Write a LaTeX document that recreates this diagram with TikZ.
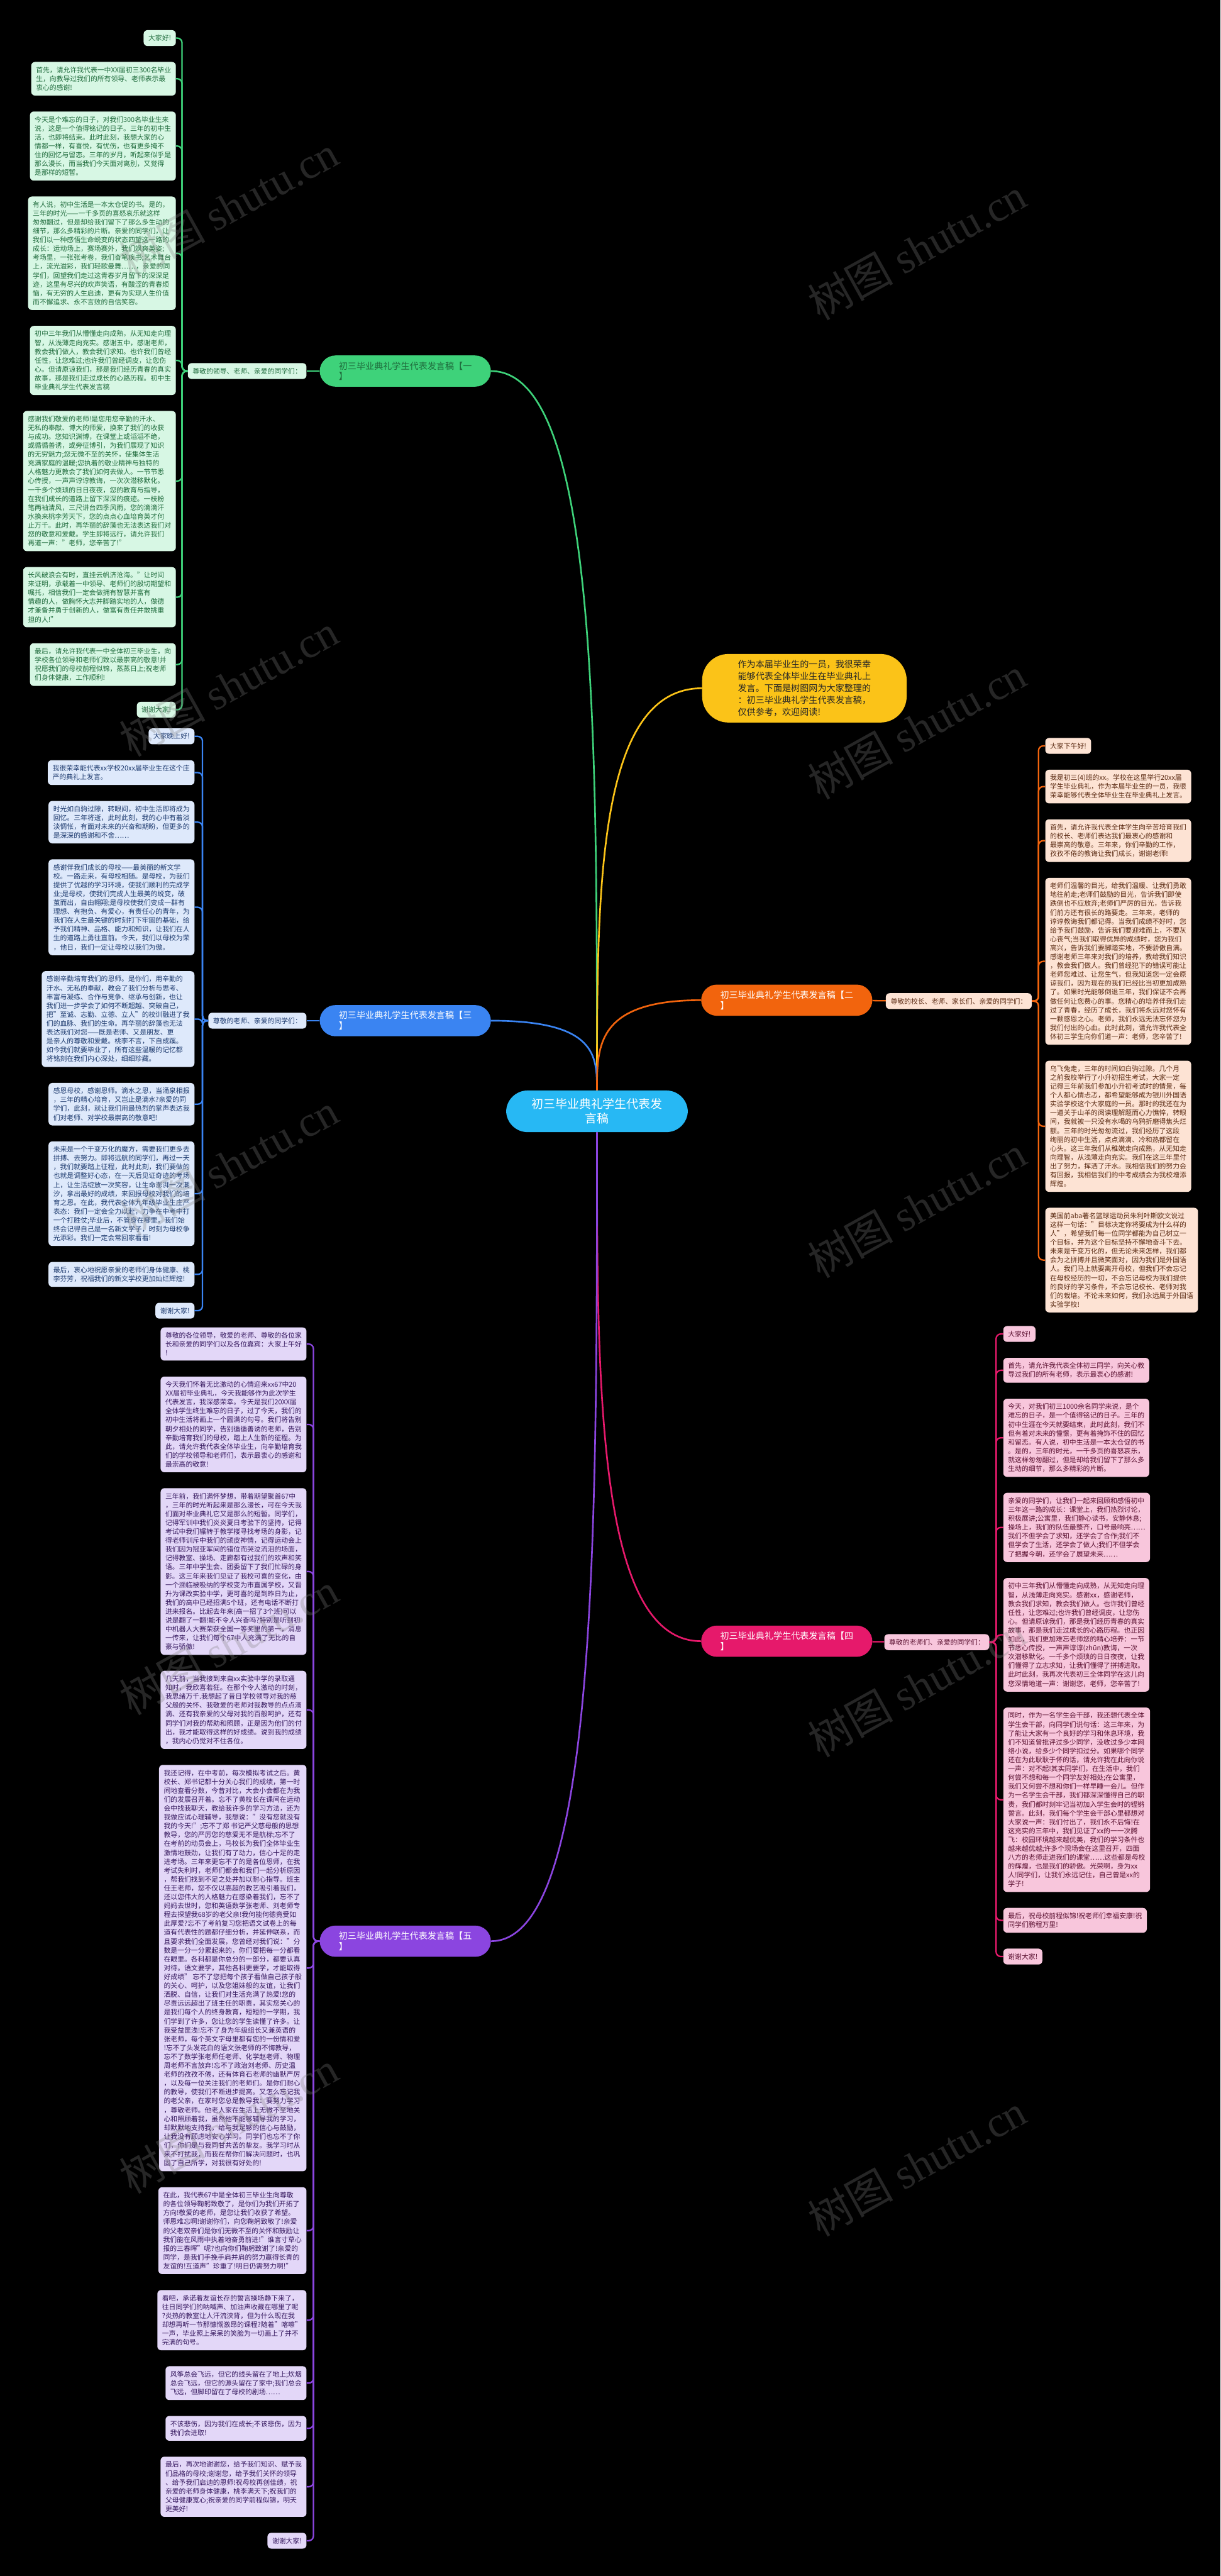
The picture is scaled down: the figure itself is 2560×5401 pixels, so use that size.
\documentclass[tikz,border=0pt]{standalone}
\usepackage{fontspec}
\setmainfont{Noto Sans CJK SC}
\newfontfamily\wmserif{Liberation Serif}
\usetikzlibrary{positioning,backgrounds}

\definecolor{rootfill}{HTML}{27B8F4}
\definecolor{gline}{HTML}{3ED27A}
\definecolor{gleafbg}{HTML}{D7F7E4}
\definecolor{gtext}{HTML}{1F6B3C}
\definecolor{bline}{HTML}{3A84F2}
\definecolor{bleafbg}{HTML}{DEE9FB}
\definecolor{btext}{HTML}{1D3A6E}
\definecolor{oline}{HTML}{F2640D}
\definecolor{oleafbg}{HTML}{FDE3D4}
\definecolor{otext}{HTML}{5A2A12}
\definecolor{kline}{HTML}{E6196B}
\definecolor{kleafbg}{HTML}{F8C6DC}
\definecolor{ktext}{HTML}{5A1030}
\definecolor{pline}{HTML}{8B45E0}
\definecolor{pleafbg}{HTML}{E3D7F8}
\definecolor{ptext}{HTML}{35185E}
\definecolor{yfill}{HTML}{FBC318}

\begin{document}
\begin{tikzpicture}[x=1pt,y=-1pt,node distance=33pt,
  leaf node/.style={rounded corners=8pt,inner xsep=10pt,inner ysep=10pt,align=left,
    font=\fontsize{14.3}{18.6}\selectfont},
  gleaf/.style={leaf node,fill=gleafbg,text=gtext},
  bleaf/.style={leaf node,fill=bleafbg,text=btext},
  oleaf/.style={leaf node,fill=oleafbg,text=otext},
  kleaf/.style={leaf node,fill=kleafbg,text=ktext},
  pleaf/.style={leaf node,fill=pleafbg,text=ptext},
  main node/.style={rounded corners=33pt,inner xsep=40pt,inner ysep=13pt,align=left,
    font=\fontsize{18.6}{22}\selectfont},
  gtrunk/.style={draw=gline,line width=3pt,rounded corners=10pt},
  btrunk/.style={draw=bline,line width=3pt,rounded corners=10pt},
  otrunk/.style={draw=oline,line width=3pt,rounded corners=10pt},
  ktrunk/.style={draw=kline,line width=3pt,rounded corners=10pt},
  ptrunk/.style={draw=pline,line width=3pt,rounded corners=10pt},
  wmark/.style={text=gray,opacity=0.3,rotate=29,font=\fontsize{90}{90}\selectfont}]

  \useasboundingbox (0,0) rectangle (2560,5401);

  % centre and the summary
  \node[rounded corners=45pt,fill=rootfill,text=white,align=center,inner xsep=53pt,inner ysep=17pt,
    font=\fontsize{25}{30}\selectfont] (root) at (1252,2330) {初三毕业典礼学生代表发\\言稿};
  \node[rounded corners=55pt,fill=yfill,text=black!85,align=left,inner xsep=75pt,inner ysep=13pt,
    font=\fontsize{18.6}{25}\selectfont] (intro) at (1687,1443)
    {作为本届毕业生的一员，我很荣幸\\能够代表全体毕业生在毕业典礼上\\发言。下面是树图网为大家整理的\\：初三毕业典礼学生代表发言稿，\\仅供参考，欢迎阅读!};

  % branch one
  \node[main node,fill=gline,text=gtext] (g main) at (850,778) {初三毕业典礼学生代表发言稿【一\\】};
  \node[gleaf,anchor=east] (g lab) at (643,778) {尊敬的领导、老师、亲爱的同学们：};
  \node[gleaf,anchor=north east] (g0) at (369,63) {大家好!};
  \node[gleaf,below=of g0.south east,anchor=north east] (g1) {首先，请允许我代表一中XX届初三300名毕业\\生，向教导过我们的所有领导、老师表示最\\衷心的感谢!};
  \node[gleaf,below=of g1.south east,anchor=north east] (g2) {今天是个难忘的日子，对我们300名毕业生来\\说，这是一个值得铭记的日子。三年的初中生\\活，也即将结束。此时此刻，我想大家的心\\情都一样，有喜悦，有忧伤，也有更多掩不\\住的回忆与留恋。三年的岁月，听起来似乎是\\那么漫长，而当我们今天面对离别，又觉得\\是那样的短暂。};
  \node[gleaf,below=of g2.south east,anchor=north east] (g3) {有人说，初中生活是一本太仓促的书。是的，\\三年的时光——一千多页的喜怒哀乐就这样\\匆匆翻过，但是却给我们留下了那么多生动的\\细节，那么多精彩的片断。亲爱的同学们，让\\我们以一种感悟生命蜕变的状态四望这一路的\\成长：运动场上，赛场赛外，我们飒爽英姿;\\考场里，一张张考卷，我们奋笔疾书;艺术舞台\\上，流光溢彩，我们轻歌曼舞……，亲爱的同\\学们，回望我们走过这青春岁月留下的深深足\\迹，这里有尽兴的欢声笑语，有酸涩的青春烦\\恼，有无穷的人生启迪，更有为实现人生价值\\而不懈追求、永不言败的自信笑容。};
  \node[gleaf,below=of g3.south east,anchor=north east] (g4) {初中三年我们从懵懂走向成熟，从无知走向理\\智，从浅薄走向充实。感谢五中，感谢老师，\\教会我们做人，教会我们求知。也许我们曾经\\任性，让您难过;也许我们曾经调皮，让您伤\\心。但请原谅我们，那是我们经历青春的真实\\故事，那是我们走过成长的心路历程。初中生\\毕业典礼学生代表发言稿};
  \node[gleaf,below=of g4.south east,anchor=north east] (g5) {感谢我们敬爱的老师!是您用您辛勤的汗水、\\无私的奉献、博大的师爱，换来了我们的收获\\与成功。您知识渊博，在课堂上或滔滔不绝，\\或循循善诱，或旁征博引，为我们展现了知识\\的无穷魅力;您无微不至的关怀，使集体生活\\充满家庭的温暖;您执着的敬业精神与独特的\\人格魅力更教会了我们如何去做人。一节节悉\\心传授，一声声谆谆教诲，一次次潜移默化。\\一千多个烦琐的日日夜夜，您的教育与指导，\\在我们成长的道路上留下深深的痕迹。一枝粉\\笔两袖清风，三尺讲台四季风雨，您的滴滴汗\\水换来桃李芳天下，您的点点心血培育英才何\\止万千。此时，再华丽的辞藻也无法表达我们对\\您的敬意和爱戴。学生即将远行，请允许我们\\再道一声："老师，您辛苦了!"};
  \node[gleaf,below=of g5.south east,anchor=north east] (g6) {长风破浪会有时，直挂云帆济沧海。"让时间\\来证明，承载着一中领导、老师们的殷切期望和\\嘱托，相信我们一定会做拥有智慧并富有\\情趣的人，做胸怀大志并脚踏实地的人，做德\\才兼备并勇于创新的人，做富有责任并敢挑重\\担的人!"};
  \node[gleaf,below=of g6.south east,anchor=north east] (g7) {最后，请允许我代表一中全体初三毕业生，向\\学校各位领导和老师们致以最崇高的敬意!并\\祝愿我们的母校前程似锦，蒸蒸日上;祝老师\\们身体健康，工作顺利!};
  \node[gleaf,below=of g7.south east,anchor=north east] (g8) {谢谢大家!};

  % branch three
  \node[main node,fill=bline,text=white] (b main) at (850,2140) {初三毕业典礼学生代表发言稿【三\\】};
  \node[bleaf,anchor=east] (b lab) at (643,2140) {尊敬的老师、亲爱的同学们：};
  \node[bleaf,anchor=north east] (b0) at (408,1527) {大家晚上好!};
  \node[bleaf,below=of b0.south east,anchor=north east] (b1) {我很荣幸能代表xx学校20xx届毕业生在这个庄\\严的典礼上发言。};
  \node[bleaf,below=of b1.south east,anchor=north east] (b2) {时光如白驹过隙，转眼间，初中生活即将成为\\回忆。三年将逝，此时此刻，我的心中有着淡\\淡惆怅，有面对未来的兴奋和期盼，但更多的\\是深深的感谢和不舍……};
  \node[bleaf,below=of b2.south east,anchor=north east] (b3) {感谢伴我们成长的母校——最美丽的新文学\\校。一路走来，有母校相随。是母校，为我们\\提供了优越的学习环境，使我们顺利的完成学\\业;是母校，使我们完成人生最美的蜕变，破\\茧而出，自由翱翔;是母校使我们变成一群有\\理想、有抱负、有爱心，有责任心的青年，为\\我们在人生最关键的时刻打下牢固的基础，给\\予我们精神、品格、能力和知识，让我们在人\\生的道路上勇往直前。今天，我们以母校为荣\\，他日，我们一定让母校以我们为傲。};
  \node[bleaf,below=of b3.south east,anchor=north east] (b4) {感谢辛勤培育我们的恩师。是你们，用辛勤的\\汗水、无私的奉献，教会了我们分析与思考、\\丰富与凝练、合作与竞争、继承与创新，也让\\我们进一步学会了如何不断超越、突破自己，\\把"至诚、志勤、立德、立人"的校训融进了我\\们的血脉、我们的生命。再华丽的辞藻也无法\\表达我们对您——既是老师、又是朋友、更\\是亲人的尊敬和爱戴。桃李不言，下自成蹊。\\如今我们就要毕业了，所有这些温暖的记忆都\\将铭刻在我们内心深处，细细珍藏。};
  \node[bleaf,below=of b4.south east,anchor=north east] (b5) {感恩母校，感谢恩师。滴水之恩，当涌泉相报\\，三年的精心培育，又岂止是滴水?亲爱的同\\学们，此刻，就让我们用最热烈的掌声表达我\\们对老师、对学校最崇高的敬意吧!};
  \node[bleaf,below=of b5.south east,anchor=north east] (b6) {未来是一个千变万化的魔方，需要我们更多去\\拼搏、去努力。即将远航的同学们，再过一天\\，我们就要踏上征程，此时此刻，我们要做的\\也就是调整好心态，在一天后见证奇迹的考场\\上，让生活绽放一次笑容，让生命澎湃一次潮\\汐，拿出最好的成绩，来回报母校对我们的培\\育之恩。在此，我代表全体九年级毕业生庄严\\表态：我们一定会全力以赴，力争在中考中打\\一个打胜仗;毕业后，不管身在哪里，我们始\\终会记得自己是一名新文学子，时刻为母校争\\光添彩。我们一定会常回家看看!};
  \node[bleaf,below=of b6.south east,anchor=north east] (b7) {最后，衷心地祝愿亲爱的老师们身体健康、桃\\李芬芳，祝福我们的新文学校更加灿烂辉煌!};
  \node[bleaf,below=of b7.south east,anchor=north east] (b8) {谢谢大家!};

  % branch five
  \node[main node,fill=pline,text=white] (p main) at (850,4070) {初三毕业典礼学生代表发言稿【五\\】};
  \node[pleaf,anchor=north east] (p0) at (643,2783) {尊敬的各位领导，敬爱的老师、尊敬的各位家\\长和亲爱的同学们以及各位嘉宾：大家上午好\\!};
  \node[pleaf,below=of p0.south east,anchor=north east] (p1) {今天我们怀着无比激动的心情迎来xx67中20\\XX届初毕业典礼，今天我能够作为此次学生\\代表发言，我深感荣幸。今天是我们20XX届\\全体学生终生难忘的日子，过了今天，我们的\\初中生活将画上一个圆满的句号。我们将告别\\朝夕相处的同学，告别循循善诱的老师，告别\\辛勤培育我们的母校，踏上人生新的征程。为\\此，请允许我代表全体毕业生，向辛勤培育我\\们的学校领导和老师们，表示最衷心的感谢和\\最崇高的敬意!};
  \node[pleaf,below=of p1.south east,anchor=north east] (p2) {三年前，我们满怀梦想，带着期望聚首67中\\，三年的时光听起来是那么漫长，可在今天我\\们面对毕业典礼它又是那么的短暂。同学们，\\记得军训中我们炎炎夏日考验下的坚持，记得\\考试中我们辗转于教学楼寻找考场的身影，记\\得老师训斥中我们的顽皮神情，记得运动会上\\我们因为冠亚军间的错位而哭泣流泪的场面，\\记得教室、操场、走廊都有过我们的欢声和笑\\语。三年中学生会、团委留下了我们忙碌的身\\影。这三年来我们见证了我校可喜的变化，由\\一个濒临被吸纳的学校变为市直属学校，又晋\\升为课改实验中学，更可喜的是到昨日为止，\\我们的高中已经招满5个班，还有电话不断打\\进来报名。比起去年来(高一招了3个班)可以\\说是翻了一翻!能不令人兴奋吗?特别是听到初\\中机器人大赛荣获全国一等奖里的第一，消息\\一传来，让我们每个67中人充满了无比的自\\豪与骄傲!};
  \node[pleaf,below=of p2.south east,anchor=north east] (p3) {几天前，当我接到来自xx实验中学的录取通\\知时，我欣喜若狂。在那个令人激动的时刻，\\我思绪万千.我想起了昔日学校领导对我的慈\\父般的关怀、我敬爱的老师对我教导的点点滴\\滴、还有我亲爱的父母对我的百般呵护，还有\\同学们对我的帮助和照顾，正是因为他们的付\\出，我才能取得这样的好成绩。说到我的成绩\\，我内心仍觉对不住各位。};
  \node[pleaf,below=of p3.south east,anchor=north east] (p4) {我还记得，在中考前，每次模拟考试之后。黄\\校长、郑书记都十分关心我们的成绩，第一时\\间地查看分数，今昔对比，大会小会都在为我\\们的发展召开着。忘不了黄校长在课间在运动\\会中找我聊天，教给我许多的学习方法，还为\\我做应试心理辅导，我想说："没有您就没有\\我的今天!";忘不了郑 书记严父慈母般的思想\\教导，您的严厉您的慈爱无不是航标;忘不了\\在考前的动员会上，马校长为我们全体毕业生\\激情地鼓劲，让我们有了动力，信心十足的走\\进考场。三年来更忘不了的是各位恩师，在我\\考试失利时，老师们都会和我们一起分析原因\\，帮我们找到不足之处并加以耐心指导。班主\\任王老师，您不仅以高超的教艺吸引着我们，\\还以您伟大的人格魅力在感染着我们，忘不了\\妈妈去世时，您和英语数学张老师、刘老师专\\程去探望我68岁的老父亲!我何能何德竟受如\\此厚爱?忘不了考前复习您把语文试卷上的每\\道有代表性的题都仔细分析，并延伸联系，而\\且要求我们全面发展，您曾经对我们说："分\\数是一分一分累起来的，你们要把每一分都看\\在眼里。各科都是你总分的一部分，都要认真\\对待。语文要学，其他各科更要学，才能取得\\好成绩" 忘不了您把每个孩子看做自己孩子般\\的关心、呵护，以及您姐妹般的友谊，让我们\\洒脱、自信，让我们对生活充满了热爱!您的\\尽责远远超出了班主任的职责，其实您关心的\\是我们每个人的终身教育，短短的一学期，我\\们学到了许多，您让您的学生读懂了许多。让\\我受益匪浅!忘不了身为年级组长又兼英语的\\张老师，每个英文字母里都有您的一份情和爱\\!忘不了头发花白的语文张老师的不悔教导，\\忘不了数学张老师任老师、化学赵老师、物理\\周老师不言放弃!忘不了政治刘老师、历史温\\老师的孜孜不倦，还有体育石老师的幽默严厉\\，以及每一位关注我们的老师们。是你们耐心\\的教导，使我们不断进步提高。又怎么忘记我\\的老父亲，在家时您总是教导我：要努力学习\\，尊敬老师。他老人家在生活上无微不至地关\\心和照顾着我，虽然他不能够辅导我的学习，\\却默默地支持我，给与我足够的信心与鼓励，\\让我没有顾虑地安心学习。同学们也忘不了你\\们，你们是与我同甘共苦的挚友。我学习时从\\来不打扰我，而我在帮你们解决问题时，也巩\\固了自己所学，对我很有好处的!};
  \node[pleaf,below=of p4.south east,anchor=north east] (p5) {在此，我代表67中是全体初三毕业生向尊敬\\的各位领导鞠躬致敬了，是你们为我们开拓了\\方向!敬爱的老师，是您让我们收获了希望。\\师恩难忘啊!谢谢你们，向您鞠躬致敬了!亲爱\\的父老双亲们是你们无微不至的关怀和鼓励让\\我们能在风雨中执着地奋勇前进!"谁言寸草心\\报的三春晖"呢?也向你们鞠躬致谢了!亲爱的\\同学，是我们手挽手肩并肩的努力赢得长青的\\友谊的!互道声"珍重了!明日仍需努力啊!"};
  \node[pleaf,below=of p5.south east,anchor=north east] (p6) {看吧，承诺着友谊长存的誓言操场静下来了，\\往日同学们的呐喊声、加油声收藏在哪里了呢\\?炎热的教室让人汗流浃背，但为什么现在我\\却想再听一节那慷慨激昂的课程?随着"喀嚓"\\一声，毕业照上呆呆的笑脸为一切画上了并不\\完满的句号。};
  \node[pleaf,below=of p6.south east,anchor=north east] (p7) {风筝总会飞远，但它的线头留在了地上;炊烟\\总会飞远，但它的源头留在了家中;我们总会\\飞远，但脚印留在了母校的剧场……};
  \node[pleaf,below=of p7.south east,anchor=north east] (p8) {不该悲伤，因为我们在成长;不该悲伤，因为\\我们会进取!};
  \node[pleaf,below=of p8.south east,anchor=north east] (p9) {最后，再次地谢谢您，给予我们知识、赋予我\\们品格的母校;谢谢您，给予我们关怀的领导\\、给予我们启迪的恩师!祝母校再创佳绩，祝\\亲爱的老师身体健康，桃李满天下;祝我们的\\父母健康宽心;祝亲爱的同学前程似锦，明天\\更美好!};
  \node[pleaf,below=of p9.south east,anchor=north east] (p10) {谢谢大家!};

  % branch two
  \node[main node,fill=oline,text=white] (o main) at (1650,2097) {初三毕业典礼学生代表发言稿【二\\】};
  \node[oleaf,anchor=east] (o lab) at (2164,2099) {尊敬的校长、老师、家长们、亲爱的同学们：};
  \node[oleaf,anchor=north west] (o0) at (2192,1547) {大家下午好!};
  \node[oleaf,below=of o0.south west,anchor=north west] (o1) {我是初三(4)班的xx。学校在这里举行20xx届\\学生毕业典礼，作为本届毕业生的一员，我很\\荣幸能够代表全体毕业生在毕业典礼上发言。};
  \node[oleaf,below=of o1.south west,anchor=north west] (o2) {首先，请允许我代表全体学生向辛苦培育我们\\的校长、老师们表达我们最衷心的感谢和\\最崇高的敬意。三年来，你们辛勤的工作，\\孜孜不倦的教诲让我们成长，谢谢老师!};
  \node[oleaf,below=of o2.south west,anchor=north west] (o3) {老师们温馨的目光，给我们温暖、让我们勇敢\\地往前走;老师们鼓励的目光，告诉我们即使\\跌倒也不应放弃;老师们严厉的目光，告诉我\\们前方还有很长的路要走。三年来，老师的\\谆谆教诲我们都记得。当我们成绩不好时，您\\给予我们鼓励，告诉我们要迎难而上，不要灰\\心丧气;当我们取得优异的成绩时，您为我们\\高兴，告诉我们要脚踏实地，不要骄傲自满。\\感谢老师三年来对我们的培养，教给我们知识\\，教会我们做人。我们曾经犯下的错误可能让\\老师您难过、让您生气，但我知道您一定会原\\谅我们，因为现在的我们已经比当初更加成熟\\了。如果时光能够倒退三年，我们保证不会再\\做任何让您费心的事。您精心的培养伴我们走\\过了青春，经历了成长，我们将永远对您怀有\\一颗感恩之心。老师，我们永远无法忘怀您为\\我们付出的心血。此时此刻，请允许我代表全\\体初三学生向你们道一声：老师，您辛苦了!};
  \node[oleaf,below=of o3.south west,anchor=north west] (o4) {乌飞兔走，三年的时间如白驹过隙。几个月\\之前我校举行了小升初招生考试，大家一定\\记得三年前我们参加小升初考试时的情景，每\\个人都心情忐忑，都希望能够成为银川外国语\\实验学校这个大家庭的一员。那时的我还在为\\一道关于山羊的阅读理解题而心力憔悴，转眼\\间，我就被一只没有水喝的乌鸦折磨得焦头烂\\额。三年的时光匆匆流过，我们经历了这段\\绚丽的初中生活，点点滴滴、冷和热都留在\\心头。这三年我们从稚嫩走向成熟，从无知走\\向理智，从浅薄走向充实。我们在这三年里付\\出了努力，挥洒了汗水。我相信我们的努力会\\有回报，我相信我们的中考成绩会为我校增添\\辉煌。};
  \node[oleaf,below=of o4.south west,anchor=north west] (o5) {美国前aba著名篮球运动员朱利叶斯欧文说过\\这样一句话："目标决定你将要成为什么样的\\人"，希望我们每一位同学都能为自己树立一\\个目标，并为这个目标坚持不懈地奋斗下去。\\未来是千变万化的，但无论未来怎样，我们都\\会为之拼搏并且微笑面对，因为我们是外国语\\人。我们马上就要离开母校，但我们不会忘记\\在母校经历的一切，不会忘记母校为我们提供\\的良好的学习条件，不会忘记校长、老师对我\\们的栽培。不论未来如何，我们永远属于外国语\\实验学校!};

  % branch four
  \node[main node,fill=kline,text=white] (k main) at (1650,3441) {初三毕业典礼学生代表发言稿【四\\】};
  \node[kleaf,anchor=east] (k lab) at (2075,3443) {尊敬的老师们、亲爱的同学们：};
  \node[kleaf,anchor=north west] (k0) at (2104,2780) {大家好!};
  \node[kleaf,below=of k0.south west,anchor=north west] (k1) {首先，请允许我代表全体初三同学，向关心教\\导过我们的所有老师，表示最衷心的感谢!};
  \node[kleaf,below=of k1.south west,anchor=north west] (k2) {今天，对我们初三1000余名同学来说，是个\\难忘的日子，是一个值得铭记的日子。三年的\\初中生涯在今天就要结束，此时此刻，我们不\\但有着对未来的憧憬，更有着掩饰不住的回忆\\和留恋。有人说，初中生活是一本太仓促的书\\。是的，三年的时光，一千多页的喜怒哀乐，\\就这样匆匆翻过，但是却给我们留下了那么多\\生动的细节，那么多精彩的片断。};
  \node[kleaf,below=of k2.south west,anchor=north west] (k3) {亲爱的同学们，让我们一起来回顾和感悟初中\\三年这一路的成长：课堂上，我们热烈讨论，\\积极展讲;公寓里，我们静心读书，安静休息;\\操场上，我们的队伍最整齐，口号最响亮……\\我们不但学会了求知，还学会了合作;我们不\\但学会了生活，还学会了做人;我们不但学会\\了把握今朝，还学会了展望未来……};
  \node[kleaf,below=of k3.south west,anchor=north west] (k4) {初中三年我们从懵懂走向成熟，从无知走向理\\智，从浅薄走向充实。感谢xx，感谢老师，\\教会我们求知，教会我们做人。也许我们曾经\\任性，让您难过;也许我们曾经调皮，让您伤\\心。但请原谅我们，那是我们经历青春的真实\\故事，那是我们走过成长的心路历程。也正因\\如此，我们更加难忘老师您的精心培养：一节\\节悉心传授，一声声谆谆(zhūn)教诲，一次\\次潜移默化。一千多个烦琐的日日夜夜，让我\\们懂得了立志求知，让我们懂得了拼搏进取。\\此时此刻，我再次代表初三全体同学在这儿向\\您深情地道一声：谢谢您，老师，您辛苦了!};
  \node[kleaf,below=of k4.south west,anchor=north west] (k5) {同时，作为一名学生会干部，我还想代表全体\\学生会干部，向同学们说句话：这三年来，为\\了能让大家有一个良好的学习和休息环境，我\\们不知道曾批评过多少同学，没收过多少本网\\络小说，给多少个同学扣过分。如果哪个同学\\还在为此耿耿于怀的话，请允许我在此向你说\\一声：对不起!其实同学们，在生活中，我们\\何尝不想和每一个同学友好相处;在公寓里，\\我们又何尝不想和你们一样早睡一会儿。但作\\为一名学生会干部，我们都深深懂得自己的职\\责，我们都时刻牢记当初加入学生会时的铿锵\\誓言。此刻，我们每个学生会干部心里都想对\\大家说一声：我们付出了，我们永不后悔!在\\这充实的三年中，我们见证了xx的一一次腾\\飞：校园环境越来越优美，我们的学习条件也\\越来越优越;许多个现场会在这里召开，四面\\八方的老师走进我们的课堂……这些都是母校\\的辉煌，也是我们的骄傲。光荣啊，身为xx\\人!同学们，让我们永远记住，自己曾是xx的\\学子!};
  \node[kleaf,below=of k5.south west,anchor=north west] (k6) {最后，祝母校前程似锦!祝老师们幸福安康!祝\\同学们鹏程万里!};
  \node[kleaf,below=of k6.south west,anchor=north west] (k7) {谢谢大家!};

  \begin{scope}[on background layer]
    \fill[black] (0,0) rectangle (2560,5401);
    % curves out of the centre
    \draw[gline,line width=3.5pt] (root.north) .. controls +(0,-754) and (root.north |- g main.east) .. (g main.east);
    \draw[yfill,line width=3.5pt] (root.north) .. controls +(0,-421) and (root.north |- intro.west) .. (intro.west);
    \draw[bline,line width=3.5pt] (root.north) .. controls +(0,-72) and (root.north |- b main.east) .. (b main.east);
    \draw[oline,line width=3.5pt] (root.north) .. controls +(0,-94) and (root.north |- o main.west) .. (o main.west);
    \draw[kline,line width=3.5pt] (root.south) .. controls +(0,533) and (root.south |- k main.west) .. (k main.west);
    \draw[pline,line width=3.5pt] (root.south) .. controls +(0,848) and (root.south |- p main.east) .. (p main.east);
    % main node to greeting
    \draw[gline,line width=3pt] (g main) -- (g lab);
    \draw[bline,line width=3pt] (b main) -- (b lab);
    \draw[oline,line width=3pt] (o main) -- (o lab);
    \draw[kline,line width=3pt] (k main) -- (k lab);
  \end{scope}

  % greeting to leaves
  \foreach \i in {0,...,8}
    \draw[gtrunk] (g lab.west) -- ++(-12,0) |- (g\i.east);
  \foreach \i in {0,...,8}
    \draw[btrunk] (b lab.west) -- ++(-12,0) |- (b\i.east);
  \foreach \i in {0,...,10}
    \draw[ptrunk] (p main.west) -- ++(-13,0) |- (p\i.east);
  \foreach \i in {0,...,5}
    \draw[otrunk] (o lab.east) -- ++(14,0) |- (o\i.west);
  \foreach \i in {0,...,7}
    \draw[ktrunk] (k lab.east) -- ++(14,0) |- (k\i.west);

  % watermarks
  \foreach \y in {433,1437,2441,3446,4450}
    \node[wmark] at (480,\y) {树图 {\wmserif shutu.cn}};
  \foreach \y in {522,1526,2530,3535,4539}
    \node[wmark] at (1923,\y) {树图 {\wmserif shutu.cn}};

\end{tikzpicture}
\end{document}
